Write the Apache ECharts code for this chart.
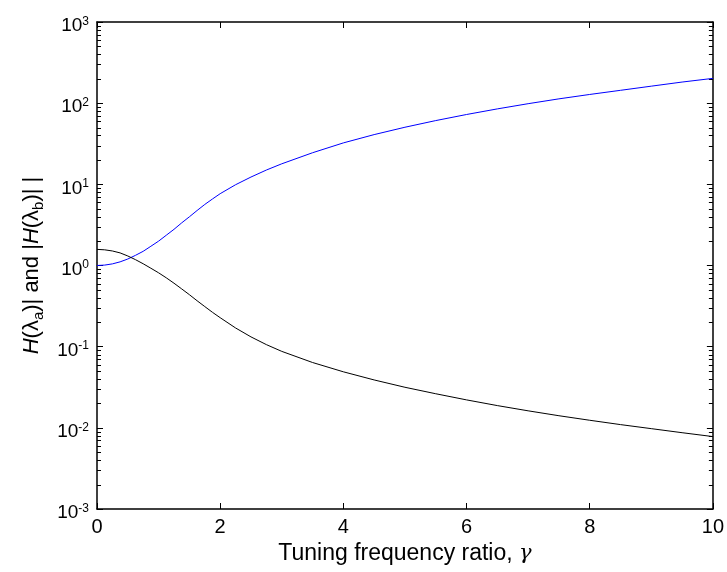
<!DOCTYPE html>
<html>
<head>
<meta charset="utf-8">
<script src="https://cdn.jsdelivr.net/npm/echarts@6/dist/echarts.min.js"></script>
<style>html,body{margin:0;padding:0;background:#fff;}#c{width:727px;height:572px;}</style>
</head>
<body>
<div id="c"></div>
<script>
// Tuning frequency ratio gamma
var gammaVals = [0,0.125,0.25,0.375,0.5,0.625,0.75,0.875,1,1.125,1.25,1.375,1.5,1.625,1.75,1.875,2,2.25,2.5,2.75,3,3.5,4,4.5,5,5.5,6,6.5,7,7.5,8,8.5,9,9.5,10];
// |H(lambda_a)| (blue)
var blueVals = [1.00,1.012,1.047,1.109,1.202,1.334,1.496,1.726,1.995,2.36,2.79,3.35,3.98,4.76,5.65,6.6,7.67,9.89,12.3,15.0,17.9,24.5,32.4,41,50.5,61,72.5,85,98.5,113,128,144,162,182,202];
// |H(lambda_b)| (black)
var blackVals = [1.58,1.56,1.51,1.43,1.31,1.18,1.05,0.925,0.813,0.705,0.605,0.515,0.437,0.368,0.312,0.265,0.2275,0.17,0.132,0.106,0.0875,0.0638,0.049,0.0389,0.0316,0.0263,0.0221,0.0188,0.0162,0.0141,0.0124,0.01096,0.00977,0.00871,0.0078];
// axis ticks
var xTicks = [0,2,4,6,8,10];
var yExps = [-3,-2,-1,0,1,2,3];
var minorMult = [2,3,4,5,6,7,8,9];

var minorData = [];
for (var i = 0; i < yExps.length - 1; i++) {
  for (var j = 0; j < minorMult.length; j++) {
    minorData.push([0, minorMult[j] * Math.pow(10, yExps[i])]);
  }
}

var FONT = 'Liberation Sans';
var chart = echarts.init(document.getElementById('c'));
var lineColor = '#000';

function yLab(v) {
  var e = Math.round(Math.log(v) / Math.LN10);
  return '{b|10}{s|' + e + '}';
}

var option = {
  animation: false,
  backgroundColor: '#fff',
  grid: { left: 97, right: 11, top: 22, bottom: 63, containLabel: false },
  xAxis: [{
    type: 'value', min: xTicks[0], max: xTicks[xTicks.length-1], interval: 2,
    position: 'bottom',
    axisLine: { show: true, onZero: false, lineStyle: { color: lineColor, width: 1.5 } },
    axisTick: { show: true, inside: true, length: 6, lineStyle: { color: lineColor, width: 1 } },
    splitLine: { show: false },
    axisLabel: { color: '#000', fontFamily: FONT, fontSize: 20, margin: 8 },
    name: '{t|Tuning frequency ratio, }{g|γ}',
    nameLocation: 'middle', nameGap: 30,
    nameTextStyle: {
      rich: {
        t: { fontFamily: FONT, fontSize: 23, color: '#000' },
        g: { fontFamily: 'DejaVu Serif', fontStyle: 'italic', fontSize: 21, color: '#000' }
      }
    }
  }, {
    type: 'value', min: xTicks[0], max: xTicks[xTicks.length-1], interval: 2,
    position: 'top',
    axisLine: { show: true, onZero: false, lineStyle: { color: lineColor, width: 1.5 } },
    axisTick: { show: true, inside: true, length: 6, lineStyle: { color: lineColor, width: 1 } },
    splitLine: { show: false },
    axisLabel: { show: false }
  }],
  yAxis: [{
    type: 'log', logBase: 10, min: 0.001, max: 1000, splitNumber: 6,
    position: 'left',
    axisLine: { show: true, onZero: false, lineStyle: { color: lineColor, width: 1.5 } },
    axisTick: { show: true, inside: true, length: 6, lineStyle: { color: lineColor, width: 1 } },
    splitLine: { show: false },
    axisLabel: {
      formatter: yLab, margin: 8, padding: [8, 0, 0, 0],
      rich: {
        b: { fontFamily: FONT, fontSize: 19, color: '#000', lineHeight: 21 },
        s: { fontFamily: FONT, fontSize: 12, color: '#000', lineHeight: 12, verticalAlign: 'top' }
      }
    },
    name: '{h|H}{t|(λ}{sub|a}{t|)| and |}{h|H}{t|(λ}{sub|b}{t|)| |}',
    nameLocation: 'middle', nameGap: 51, nameRotate: 90,
    nameTextStyle: {
      rich: {
        h: { fontFamily: FONT, fontStyle: 'italic', fontSize: 22, color: '#000', lineHeight: 28 },
        t: { fontFamily: FONT, fontSize: 22, color: '#000', lineHeight: 28 },
        sub: { fontFamily: FONT, fontSize: 15, color: '#000', lineHeight: 15, verticalAlign: 'bottom' }
      }
    }
  }, {
    type: 'log', logBase: 10, min: 0.001, max: 1000, splitNumber: 6,
    position: 'right',
    axisLine: { show: true, onZero: false, lineStyle: { color: lineColor, width: 1.5 } },
    axisTick: { show: true, inside: true, length: 6, lineStyle: { color: lineColor, width: 1 } },
    splitLine: { show: false },
    axisLabel: { show: false }
  }],
  series: [{
    type: 'line', xAxisIndex: 0, yAxisIndex: 0,
    data: gammaVals.map(function (g, k) { return [g, blueVals[k]]; }),
    showSymbol: false, smooth: false,
    lineStyle: { color: '#0000ff', width: 1 }, itemStyle: { color: '#0000ff' }
  }, {
    type: 'line', xAxisIndex: 0, yAxisIndex: 0,
    data: gammaVals.map(function (g, k) { return [g, blackVals[k]]; }),
    showSymbol: false, smooth: false,
    lineStyle: { color: '#000000', width: 1 }, itemStyle: { color: '#000' }
  }, {
    type: 'custom', xAxisIndex: 0, yAxisIndex: 0, silent: true, clip: false,
    data: minorData,
    encode: { x: 0, y: 1 },
    renderItem: function (params, api) {
      var v = api.value(1);
      var pl = api.coord([xTicks[0], v]);
      var pr = api.coord([xTicks[xTicks.length-1], v]);
      var st = { stroke: '#000', lineWidth: 1 };
      return {
        type: 'group',
        children: [
          { type: 'line', shape: { x1: pl[0], y1: Math.round(pl[1]) + 0.5, x2: pl[0] + 4, y2: Math.round(pl[1]) + 0.5 }, style: st },
          { type: 'line', shape: { x1: pr[0], y1: Math.round(pr[1]) + 0.5, x2: pr[0] - 4, y2: Math.round(pr[1]) + 0.5 }, style: st }
        ]
      };
    }
  }]
};
chart.setOption(option);
</script>
</body>
</html>
